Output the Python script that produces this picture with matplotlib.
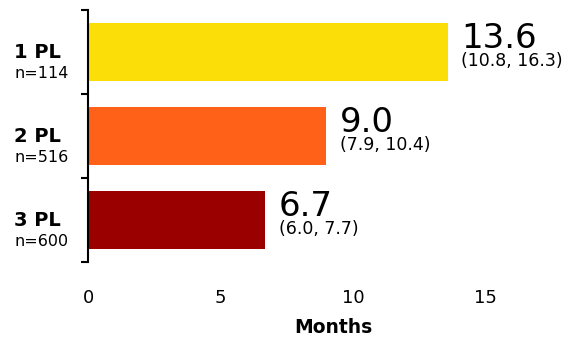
import matplotlib.pyplot as plt
from matplotlib import transforms

plt.rcParams['font.family'] = ['DejaVu Sans']

# Median duration by line of therapy
lines = ["1 PL", "2 PL", "3 PL"]
counts = ["n=114", "n=516", "n=600"]
medians = [13.6, 9.0, 6.7]
ci_low = [10.8, 7.9, 6.0]
ci_high = [16.3, 10.4, 7.7]
colors = ["#FBDD08", "#FF6118", "#9A0000"]

fig = plt.figure(figsize=(5.8, 3.42), dpi=100)
ax = fig.add_axes([88 / 580, 80 / 342, 490 / 580, 252 / 342])

ypos = list(range(len(lines)))
ax.barh(ypos, medians, height=0.68, color=colors)

ax.set_xlim(0, 18.5)
ax.set_ylim(2.5, -0.5)

for y, m, lo, hi in zip(ypos, medians, ci_low, ci_high):
    ax.text(m + 0.5, y - 0.05, f"{m:.1f}", fontsize=24.5, ha="left", va="baseline")
    ax.text(m + 0.5, y + 0.17, f"({lo}, {hi})", fontsize=12.5, ha="left", va="baseline")

# category labels at the left edge of the figure
trans = transforms.blended_transform_factory(fig.transFigure, ax.transData)
for y, name, n in zip(ypos, lines, counts):
    ax.text(14 / 580, y + 0.07, name, transform=trans, fontsize=14, fontweight="bold",
            ha="left", va="baseline")
    ax.text(14 / 580, y + 0.31, n, transform=trans, fontsize=11.5, ha="left", va="baseline")

for side in ["top", "right", "bottom"]:
    ax.spines[side].set_visible(False)
ax.spines["left"].set_linewidth(1.5)

ax.set_yticks([-0.5, 0.5, 1.5, 2.5])
ax.set_yticklabels([])
ax.tick_params(axis="y", length=5, width=1.5, direction="out")

ax.set_xticks([0, 5, 10, 15])
ax.tick_params(axis="x", length=0, labelsize=13, pad=19.5)
ax.set_xlabel("Months", fontsize=13.5, fontweight="bold", labelpad=8)

fig.savefig("out.png", dpi=100)
